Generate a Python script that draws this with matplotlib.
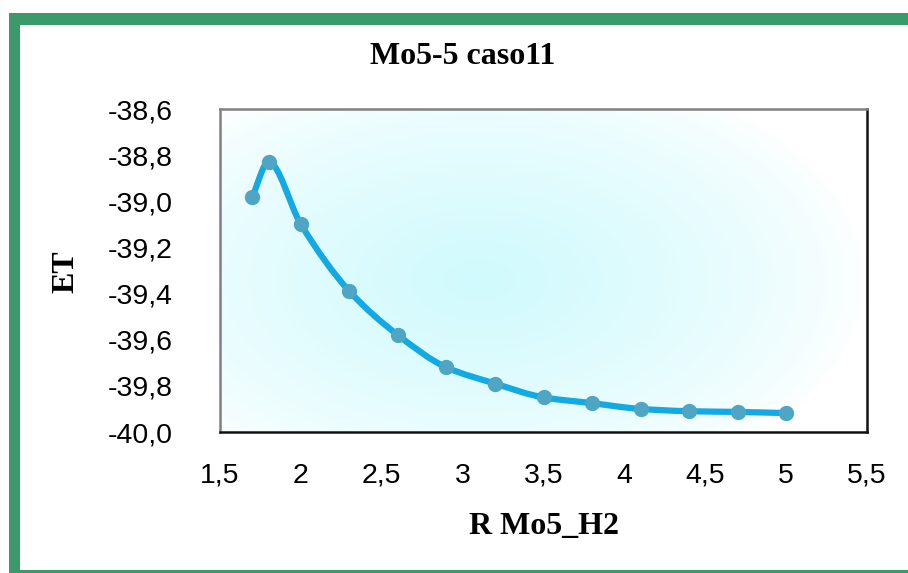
import matplotlib.pyplot as plt
import numpy as np
from matplotlib.path import Path
from matplotlib.patches import PathPatch, Rectangle
from matplotlib.colors import LinearSegmentedColormap

# data
r_vals = [1.7, 1.8, 2.0, 2.3, 2.6, 2.9, 3.2, 3.5, 3.8, 4.1, 4.4, 4.7, 5.0]
et_vals = [-38.98, -38.83, -39.10, -39.39, -39.58, -39.72, -39.79,
           -39.85, -39.875, -39.90, -39.91, -39.913, -39.918]

x_ticks = [1.5, 2, 2.5, 3, 3.5, 4, 4.5, 5, 5.5]
x_labels = ['1,5', '2', '2,5', '3', '3,5', '4', '4,5', '5', '5,5']
y_ticks = [-40.0, -39.8, -39.6, -39.4, -39.2, -39.0, -38.8, -38.6]
y_labels = ['-40,0', '-39,8', '-39,6', '-39,4', '-39,2', '-39,0', '-38,8', '-38,6']

title = 'Mo5-5 caso11'
x_title = 'R Mo5_H2'
y_title = 'ET'

line_color = '#13a9e2'
marker_color = '#4ea5c4'
frame_green = '#3a9a6a'


def smooth_path(xs, ys):
    # monotone cubic (no overshoot), drawn as bezier segments
    x = np.asarray(xs, float)
    y = np.asarray(ys, float)
    h = np.diff(x)
    dlt = np.diff(y) / h
    m = np.zeros_like(x)
    m[0], m[-1] = dlt[0], dlt[-1]
    for i in range(1, len(x) - 1):
        if dlt[i - 1] * dlt[i] > 0:
            w1 = 2 * h[i] + h[i - 1]
            w2 = h[i] + 2 * h[i - 1]
            m[i] = (w1 + w2) / (w1 / dlt[i - 1] + w2 / dlt[i])
    verts = [(x[0], y[0])]
    codes = [Path.MOVETO]
    for i in range(len(x) - 1):
        verts += [(x[i] + h[i] / 3, y[i] + m[i] * h[i] / 3),
                  (x[i + 1] - h[i] / 3, y[i + 1] - m[i + 1] * h[i] / 3),
                  (x[i + 1], y[i + 1])]
        codes += [Path.CURVE4] * 3
    return Path(verts, codes)


fig = plt.figure(figsize=(9.08, 5.73), dpi=100)

# green frame (left, top, bottom)
fig.add_artist(Rectangle((9 / 908, 0), 11 / 908, 1 - 13 / 573,
                         transform=fig.transFigure, color=frame_green, lw=0))
fig.add_artist(Rectangle((9 / 908, 1 - 25 / 573), 1, 12 / 573,
                         transform=fig.transFigure, color=frame_green, lw=0))
fig.add_artist(Rectangle((9 / 908, 0), 1, 3 / 573,
                         transform=fig.transFigure, color=frame_green, lw=0))

ax = fig.add_axes([220 / 908, 1 - 432 / 573, 647 / 908, 323 / 573])

# radial cyan glow in the plot area
gx, gy = np.meshgrid(np.linspace(0, 1, 300), np.linspace(0, 1, 200))
d = np.sqrt(((gx - 0.40) / 0.60) ** 2 + ((gy - 0.47) / 0.70) ** 2)
glow = np.clip(1 - d, 0, 1) ** 0.7
cmap = LinearSegmentedColormap.from_list('glow', ['#ffffff', '#d0fafd'])
ax.imshow(glow, extent=[0, 1, 0, 1], origin='lower', cmap=cmap, vmin=0, vmax=1,
          transform=ax.transAxes, aspect='auto', zorder=0, interpolation='bilinear')

ax.add_patch(PathPatch(smooth_path(r_vals, et_vals), fill=False,
                       edgecolor=line_color, lw=4.5, zorder=2, capstyle='round'))
ax.plot(r_vals, et_vals, 'o', color=marker_color, markersize=10, zorder=3)

ax.set_xlim(1.5, 5.5)
ax.set_ylim(-40.0, -38.6)
ax.set_xticks(x_ticks)
ax.set_xticklabels(x_labels)
ax.set_yticks(y_ticks)
ax.set_yticklabels(y_labels)
ax.tick_params(length=0, labelsize=20.5)
ax.tick_params(axis='x', pad=22)
ax.tick_params(axis='y', pad=34)
for lab in ax.get_xticklabels() + ax.get_yticklabels():
    lab.set_family('Liberation Sans')

for side in ['left', 'top']:
    ax.spines[side].set_color('#808080')
for side in ['right', 'bottom']:
    ax.spines[side].set_color('#111111')
for s in ax.spines.values():
    s.set_linewidth(1.8)

serif = 'Liberation Serif'
fig.text(463 / 908, 1 - 57 / 573, title, ha='center', va='center',
         fontsize=23, fontweight='bold', family=serif)
fig.text(544 / 908, 1 - 526 / 573, x_title, ha='center', va='center',
         fontsize=23, fontweight='bold', family=serif)
fig.text(66 / 908, 1 - 272 / 573, y_title, ha='center', va='center',
         fontsize=23, fontweight='bold', family=serif, rotation=90)

fig.savefig('out.png', dpi=100)
